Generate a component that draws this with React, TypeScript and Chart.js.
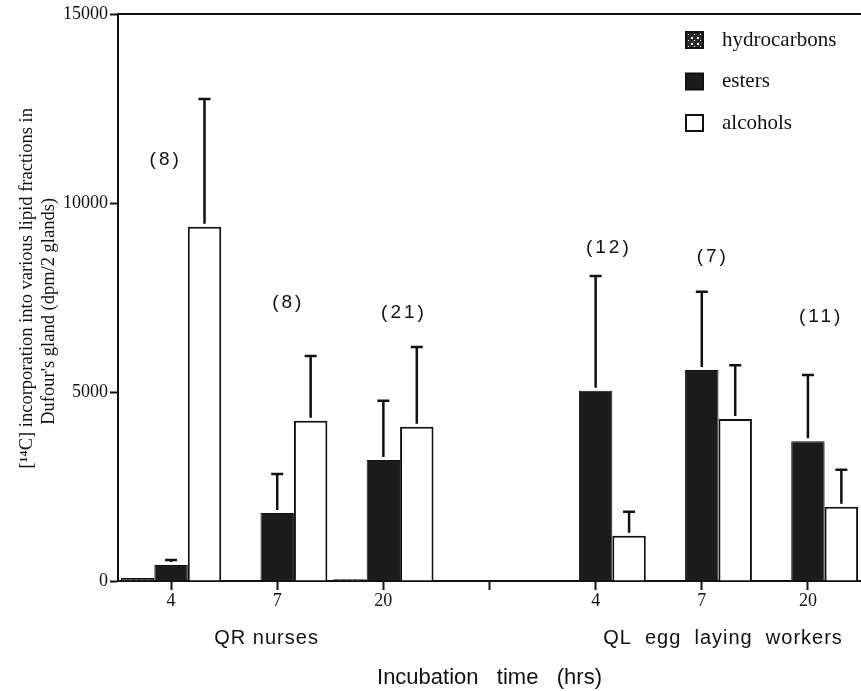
import React, { useEffect, useRef } from "react";
import { Chart, registerables } from "chart.js";

Chart.register(...registerables);

// ---- data ----
const categories = ["4", "7", "20", "", "4", "7", "20"];
const hydrocarbons = [80, null, 45, null, null, null, null];
const esters = [420, 1800, 3200, null, 5035, 5580, 3700];
const esterErr = [135, 1030, 1570, null, 3035, 2070, 1750];
const alcohols = [9370, 4240, 4080, null, 1200, 4285, 1965];
const alcoholErr = [3380, 1710, 2110, null, 630, 1425, 975];
const nLabels = ["(8)", "(8)", "(21)", "", "(12)", "(7)", "(11)"];
const nLabelValue = [11140, 7350, 7090, null, 8810, 8570, 6980];
const nLabelShift = [-0.065, 0.09, 0.18, 0, 0.11, 0.09, 0.11];
const groupLabels = ["QR nurses", "QL  egg  laying  workers"];
const groupLabelAt = [0.9, 5.2];
const yTicks = [0, 5000, 10000, 15000];
const yTitle = [
  "    [\u00B9\u2074C] incorporation into various lipid fractions in",
  "Dufour's gland (dpm/2 glands)      ",
];
const xTitle = "Incubation   time   (hrs)";

const INK = "#111111";
const SERIF = "'Liberation Serif', 'Times New Roman', serif";
const SANS = "'Liberation Sans', Arial, sans-serif";

function makeDotPattern(): CanvasPattern | string {
  const c = document.createElement("canvas");
  c.width = 6;
  c.height = 6;
  const g = c.getContext("2d");
  if (!g) return "#555";
  g.fillStyle = "#2a2a2a";
  g.fillRect(0, 0, 6, 6);
  g.fillStyle = "#ffffff";
  g.fillRect(1, 1, 2, 2);
  g.fillRect(4, 4, 1, 1);
  const p = g.createPattern(c, "repeat");
  return p || "#555";
}

const errorBarsPlugin = {
  id: "errorBars",
  afterDatasetsDraw(chart: any) {
    const { ctx } = chart;
    const yScale = chart.scales.y;
    chart.data.datasets.forEach((ds: any, di: number) => {
      const errs = ds.errors;
      if (!errs) return;
      const meta = chart.getDatasetMeta(di);
      meta.data.forEach((bar: any, i: number) => {
        const v = ds.data[i];
        const e = errs[i];
        if (v == null || e == null) return;
        const x = bar.x;
        const yTop = bar.y - 3;
        const yCap = yScale.getPixelForValue(v + e);
        ctx.save();
        ctx.strokeStyle = INK;
        ctx.lineWidth = 2.5;
        ctx.beginPath();
        ctx.moveTo(x, yTop);
        ctx.lineTo(x, yCap);
        ctx.moveTo(x - 6, yCap);
        ctx.lineTo(x + 6, yCap);
        ctx.stroke();
        ctx.restore();
      });
    });
  },
};

const decorPlugin = {
  id: "decor",
  afterDraw(chart: any) {
    const { ctx, chartArea } = chart;
    const xs = chart.scales.x;
    const ys = chart.scales.y;
    ctx.save();
    // top frame line
    ctx.strokeStyle = INK;
    ctx.lineWidth = 2;
    ctx.beginPath();
    ctx.moveTo(chartArea.left, chartArea.top);
    ctx.lineTo(chartArea.right, chartArea.top);
    ctx.stroke();

    // sample-size annotations
    ctx.fillStyle = INK;
    ctx.font = `19px ${SANS}`;
    (ctx as any).letterSpacing = "3px";
    ctx.textAlign = "center";
    ctx.textBaseline = "middle";
    nLabels.forEach((t, i) => {
      const v = nLabelValue[i];
      if (!t || v == null) return;
      ctx.fillText(t, xs.getPixelForValue(i + nLabelShift[i]) + 1.5, ys.getPixelForValue(v));
    });

    // group labels
    ctx.font = `20px ${SANS}`;
    (ctx as any).letterSpacing = "1px";
    groupLabels.forEach((t, i) => {
      ctx.fillText(t, xs.getPixelForValue(groupLabelAt[i]), chartArea.bottom + 57);
    });

    // legend
    (ctx as any).letterSpacing = "0px";
    ctx.font = `21px ${SERIF}`;
    ctx.textAlign = "left";
    const lx = 686;
    chart.data.datasets.forEach((ds: any, i: number) => {
      const cy = 40 + i * 41.5;
      ctx.fillStyle = ds.backgroundColor;
      ctx.fillRect(lx, cy - 8, 17, 16);
      ctx.strokeStyle = INK;
      ctx.lineWidth = 2;
      ctx.strokeRect(lx, cy - 8, 17, 16);
      ctx.fillStyle = INK;
      ctx.fillText(ds.label, 722, cy);
    });
    ctx.restore();
  },
};

export default function App() {
  const ref = useRef<HTMLCanvasElement | null>(null);

  useEffect(() => {
    document.body.style.margin = "0";
    const canvas = ref.current;
    if (!canvas) return;
    const pattern = makeDotPattern();
    const chart = new Chart(canvas, {
      type: "bar",
      data: {
        labels: categories,
        datasets: [
          {
            label: "hydrocarbons",
            data: hydrocarbons,
            backgroundColor: pattern as any,
            borderColor: INK,
            borderWidth: 1.5,
          },
          {
            label: "esters",
            data: esters,
            errors: esterErr,
            backgroundColor: "#1c1c1c",
            borderColor: INK,
            borderWidth: 1,
          } as any,
          {
            label: "alcohols",
            data: alcohols,
            errors: alcoholErr,
            backgroundColor: "#ffffff",
            borderColor: INK,
            borderWidth: 2,
          } as any,
        ],
      },
      options: {
        responsive: false,
        animation: false,
        events: [],
        datasets: {
          bar: { categoryPercentage: 0.945, barPercentage: 1.0 },
        },
        layout: { padding: { left: 0, right: -6, top: 14, bottom: 0 } },
        plugins: {
          legend: { display: false },
          tooltip: { enabled: false },
        },
        scales: {
          x: {
            grid: {
              offset: false,
              drawOnChartArea: false,
              drawTicks: true,
              tickLength: 9,
              tickWidth: 2,
              tickColor: INK,
            },
            border: { display: true, color: INK, width: 2 },
            ticks: {
              color: INK,
              font: { family: SERIF, size: 18 },
              padding: 0,
              maxRotation: 0,
              autoSkip: false,
            },
            title: {
              display: true,
              text: xTitle,
              color: INK,
              font: { family: SANS, size: 22, lineHeight: 1.2 },
              padding: { top: 0, bottom: 0 },
            },
            afterFit: (s: any) => {
              s.height = 110;
            },
          },
          y: {
            min: 0,
            max: 15000,
            afterBuildTicks: (s: any) => {
              s.ticks = yTicks.map((v) => ({ value: v }));
            },
            grid: {
              drawOnChartArea: false,
              drawTicks: true,
              tickLength: 8,
              tickWidth: 2,
              tickColor: INK,
            },
            border: { display: true, color: INK, width: 2 },
            ticks: {
              color: INK,
              font: { family: SERIF, size: 18 },
              padding: 2,
              callback: (v: any) => String(v),
            },
            title: {
              display: true,
              text: yTitle,
              color: INK,
              font: { family: SERIF, size: 18.5, lineHeight: 1.2 },
              padding: { top: 16, bottom: 0 },
            },
            afterFit: (s: any) => {
              s.width = 118;
            },
          },
        },
      },
      plugins: [errorBarsPlugin, decorPlugin],
    } as any);
    return () => chart.destroy();
  }, []);

  return <canvas ref={ref} width={861} height={691} style={{ display: "block" }} />;
}
